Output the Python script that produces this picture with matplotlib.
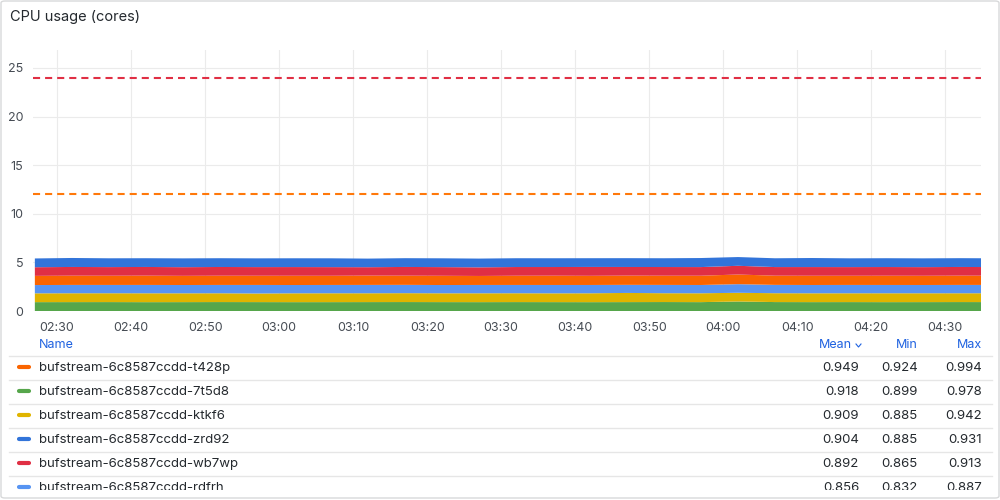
import matplotlib.pyplot as plt
import matplotlib.dates as mdates
import pandas as pd
from matplotlib.patches import FancyBboxPatch, Rectangle
from matplotlib.lines import Line2D

plt.rcParams['font.family'] = ['Inter', 'DejaVu Sans']

# 5-minute samples
times = pd.date_range('2024-01-01 02:27', periods=27, freq='5min')

green_7t5d8 = [0.912, 0.915, 0.918, 0.910, 0.914, 0.920, 0.916, 0.911, 0.913, 0.917, 0.921, 0.915, 0.912, 0.918,
               0.914, 0.910, 0.916, 0.922, 0.913, 0.978, 0.919, 0.914, 0.917, 0.912, 0.915, 0.920, 0.916]
yellow_ktkf6 = [0.905, 0.910, 0.908, 0.912, 0.906, 0.904, 0.885, 0.909, 0.911, 0.907, 0.913, 0.906, 0.910, 0.908,
                0.904, 0.912, 0.942, 0.907, 0.910, 0.895, 0.911, 0.908, 0.906, 0.912, 0.909, 0.905, 0.910]
lblue_rdfrh = [0.852, 0.858, 0.855, 0.860, 0.854, 0.857, 0.880, 0.853, 0.856, 0.859, 0.855, 0.851, 0.858, 0.854,
               0.860, 0.856, 0.832, 0.855, 0.853, 0.887, 0.857, 0.854, 0.859, 0.855, 0.852, 0.858, 0.856]
orange_t428p = [0.945, 0.952, 0.948, 0.955, 0.943, 0.950, 0.947, 0.953, 0.944, 0.958, 0.946, 0.951, 0.924, 0.949,
                0.955, 0.942, 0.950, 0.947, 0.953, 0.994, 0.946, 0.951, 0.944, 0.950, 0.948, 0.954, 0.947]
red_wb7wp = [0.890, 0.895, 0.888, 0.893, 0.891, 0.897, 0.889, 0.894, 0.890, 0.865, 0.896, 0.892, 0.888, 0.895,
             0.891, 0.913, 0.889, 0.893, 0.890, 0.896, 0.888, 0.894, 0.891, 0.895, 0.889, 0.893, 0.890]
blue_zrd92 = [0.902, 0.925, 0.905, 0.900, 0.906, 0.903, 0.899, 0.904, 0.907, 0.885, 0.903, 0.906, 0.901, 0.905,
              0.902, 0.898, 0.907, 0.903, 0.931, 0.900, 0.904, 0.931, 0.902, 0.906, 0.903, 0.905, 0.901]

thresholds = [12, 24]

legend_names = ['bufstream-6c8587ccdd-t428p', 'bufstream-6c8587ccdd-7t5d8', 'bufstream-6c8587ccdd-ktkf6',
                'bufstream-6c8587ccdd-zrd92', 'bufstream-6c8587ccdd-wb7wp', 'bufstream-6c8587ccdd-rdfrh']
legend_mean = ['0.949', '0.918', '0.909', '0.904', '0.892', '0.856']
legend_min = ['0.924', '0.899', '0.885', '0.885', '0.865', '0.832']
legend_max = ['0.994', '0.978', '0.942', '0.931', '0.913', '0.887']

GREEN, YELLOW, LBLUE = '#56A64B', '#E0B400', '#5794F2'
ORANGE, RED, BLUE = '#FA6400', '#E02F44', '#3274D9'
legend_colors = [ORANGE, GREEN, YELLOW, BLUE, RED, LBLUE]

W, H = 1000, 500
fig = plt.figure(figsize=(10, 5), dpi=100, facecolor='white')


def fx(px):
    return px / W


def fy(py):
    return 1 - py / H


ax = fig.add_axes([fx(33), fy(311), fx(981) - fx(33), fy(50) - fy(311)])
ax.stackplot(times, green_7t5d8, yellow_ktkf6, lblue_rdfrh, orange_t428p, red_wb7wp, blue_zrd92,
             colors=[GREEN, YELLOW, LBLUE, ORANGE, RED, BLUE], linewidth=0, zorder=2)
ax.axhline(thresholds[0], color='#FF780A', lw=1.5, dashes=(3.4, 2.4), zorder=3)
ax.axhline(thresholds[1], color=RED, lw=1.5, dashes=(3.4, 2.4), zorder=3)

ax.set_xlim(pd.Timestamp('2024-01-01 02:26:45'), pd.Timestamp('2024-01-01 04:34:50'))
ax.set_ylim(0, 26.85)
ax.set_yticks([0, 5, 10, 15, 20, 25])
ax.xaxis.set_major_locator(mdates.MinuteLocator(byminute=range(0, 60, 10)))
ax.xaxis.set_major_formatter(mdates.DateFormatter('%H:%M'))
ax.grid(True, color='#ebebeb', lw=0.8, zorder=0)
ax.set_axisbelow(True)
for s in ax.spines.values():
    s.set_visible(False)
ax.tick_params(axis='both', length=0, labelsize=9, colors='#464c54')
ax.tick_params(axis='y', pad=7)
ax.tick_params(axis='x', pad=8)

# title
fig.text(fx(10), fy(17), 'CPU usage (cores)', fontsize=10.5, color='#24292e', va='center', ha='left')

# legend table
hdr_y = 345
link = '#1F62E0'
fig.text(fx(39), fy(hdr_y), 'Name', fontsize=9, color=link, va='center')
fig.text(fx(852), fy(hdr_y), 'Mean', fontsize=9, color=link, va='center', ha='right')
fig.add_artist(Line2D([fx(856), fx(858.5), fx(861)], [fy(344), fy(347), fy(344)], color=link, lw=0.8))
fig.text(fx(918), fy(hdr_y), 'Min', fontsize=9, color=link, va='center', ha='right')
fig.text(fx(982), fy(hdr_y), 'Max', fontsize=9, color=link, va='center', ha='right')

for i, name in enumerate(legend_names):
    yl = 356 + 24 * i
    fig.add_artist(Line2D([fx(9), fx(992)], [fy(yl), fy(yl)], color='#e6e6e6', lw=1))
    yc = 368 + 24 * i
    fig.add_artist(Line2D([fx(19), fx(29)], [fy(yc - 1), fy(yc - 1)], color=legend_colors[i], lw=3,
                          solid_capstyle='round'))
    fig.text(fx(39), fy(yc), name, fontsize=9.5, color='#24292e', va='center')
    fig.text(fx(859), fy(yc), legend_mean[i], fontsize=9.5, color='#24292e', va='center', ha='right')
    fig.text(fx(918), fy(yc), legend_min[i], fontsize=9.5, color='#24292e', va='center', ha='right')
    fig.text(fx(982), fy(yc), legend_max[i], fontsize=9.5, color='#24292e', va='center', ha='right')

# clip the last row at the panel edge
fig.add_artist(Rectangle((0, 0), 1, fy(490), transform=fig.transFigure, facecolor='white',
                         edgecolor='none', zorder=10))
fig.add_artist(FancyBboxPatch((fx(1), fy(498)), fx(998), fy(1) - fy(498),
                              boxstyle='round,pad=0,rounding_size=0.004', transform=fig.transFigure,
                              facecolor='none', edgecolor='#d8d9da', lw=1, zorder=11))

plt.savefig('out.png', dpi=100)
